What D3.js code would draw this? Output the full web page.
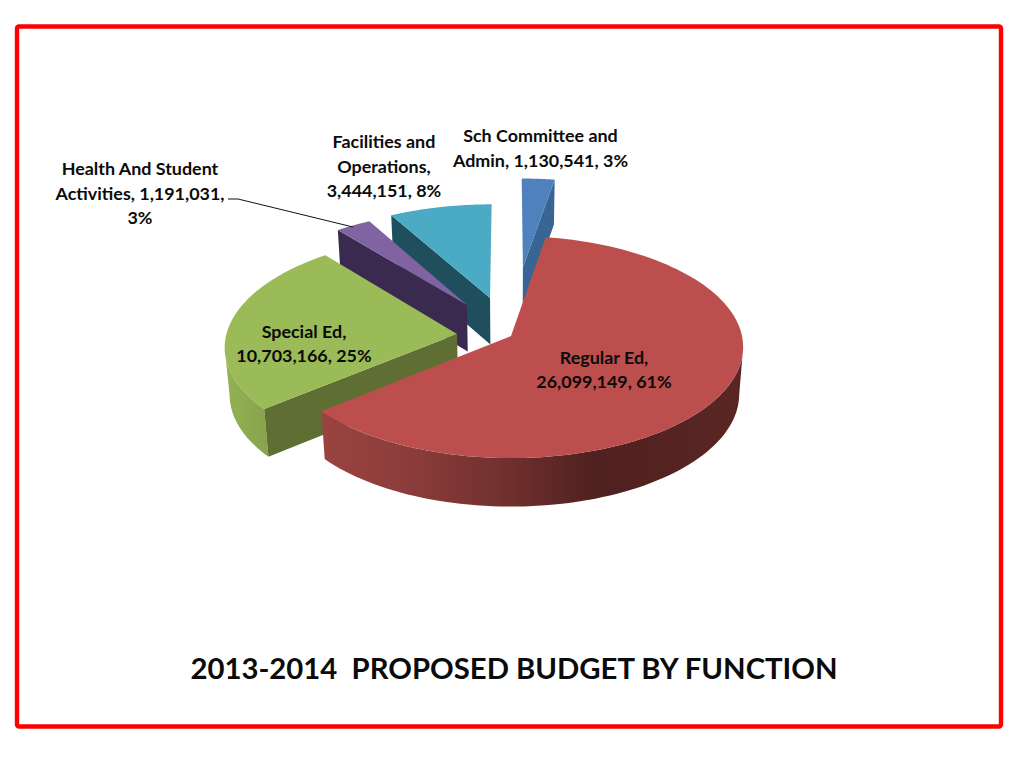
<!DOCTYPE html>
<html>
<head>
<meta charset="utf-8">
<script src="https://cdn.jsdelivr.net/npm/d3@7/dist/d3.min.js"></script>
<style>html,body{margin:0;padding:0;background:#fff}svg{display:block}</style>
</head>
<body>
<svg id="chart" width="1024" height="768"></svg>
<script>
// ---- data ----
const categories = ["Regular Ed", "Special Ed", "Health And Student Activities", "Facilities and Operations", "Sch Committee and Admin"];
const budget = [26099149, 10703166, 1191031, 3444151, 1130541];
const labelLines = [
  ["Regular Ed,", "26,099,149, 61%"],
  ["Special Ed,", "10,703,166, 25%"],
  ["Health And Student", "Activities, 1,191,031,", "3%"],
  ["Facilities and", "Operations,", "3,444,151, 8%"],
  ["Sch Committee and", "Admin, 1,130,541, 3%"]
];
const titleText = "2013-2014  PROPOSED BUDGET BY FUNCTION";

// ---- styling / layout ----
const topColors = ["#bc4f4d", "#9bbb59", "#8064a2", "#4babc5", "#4f81bd"];
const cutColors = ["#6e2f2d", "#5f6f34", "#3a2a50", "#1f4f5c", "#386594"];
const wallStops = [
  [[0, "#9a4341"], [0.2, "#8c3d3b"], [0.45, "#6f2f2d"], [0.65, "#4f2120"], [1, "#5a2624"]],
  [[0, "#94b254"], [1, "#88a44d"]],
  [[0, "#3a2a50"], [1, "#3a2a50"]],
  [[0, "#1f4f5c"], [1, "#1f4f5c"]],
  [[0, "#386594"], [1, "#386594"]]
];
const sliceShift = [[0, 0], [-0.234, 0.018], [-0.196, 0.29], [-0.094, 0.358], [0.055, 0.668]];
const labelAnchor = [[604, 358], [304, 332], [140, 169], [384, 142], [540.5, 136]];
const lineGap = [23.5, 24, 24.5, 24.5, 25];
const pieStart = 9.5 * Math.PI / 180;
const cx = 511, cy = 336, R = 231, Rk = 110, persp = 0.099, H = 47, bottomScale = 0.983;
const paintOrder = [4, 3, 2, 1, 0];
const fontFamily = "Lato, Carlito, Calibri, sans-serif";

const svg = d3.select("#chart");
const defs = svg.append("defs");

// frame
svg.append("rect").attr("x", 17).attr("y", 26.5).attr("width", 984).attr("height", 700)
  .attr("rx", 2).attr("fill", "#fff").attr("stroke", "#fe0000").attr("stroke-width", 4.4);

// perspective projection of a disc-plane point; lower=true gives the bottom face
function project(X, Y, lower) {
  const w = 1 / (1 + persp * Y);
  const x0 = R * X * w, y0 = -Rk * Y * w;
  return lower
    ? [cx + x0 * bottomScale, cy + y0 + H * Math.pow(w, 0.3)]
    : [cx + x0, cy + y0];
}
const rim = (i, a, lower) => project(sliceShift[i][0] + Math.sin(a), sliceShift[i][1] + Math.cos(a), lower);
const apex = (i, lower) => project(sliceShift[i][0], sliceShift[i][1], lower);

const arcs = d3.pie().sort(null).value(d => d)
  .startAngle(pieStart).endAngle(pieStart + 2 * Math.PI)(budget);
const line = d3.line();
const poly = pts => line(pts) + "Z";
const sweep = (a0, a1) => d3.range(0, 121).map(k => a0 + (a1 - a0) * k / 120);

const slices = svg.append("g").selectAll("g").data(paintOrder).join("g");

slices.each(function (i) {
  const g = d3.select(this);
  const a0 = arcs[i].startAngle, a1 = arcs[i].endAngle, mid = (a0 + a1) / 2;
  const angles = sweep(a0, a1);

  // curved outside wall: only the stretch of rim that faces the viewer
  const gid = "wall" + i;
  const front = [];
  for (let k = 0; k < angles.length - 1; k++) {
    if (rim(i, angles[k + 1])[0] < rim(i, angles[k])[0]) front.push(angles[k], angles[k + 1]);
  }
  const frontAngles = Array.from(new Set(front));
  if (frontAngles.length) {
    const xs = frontAngles.map(a => rim(i, a)[0]);
    const grad = defs.append("linearGradient").attr("id", gid)
      .attr("gradientUnits", "userSpaceOnUse")
      .attr("x1", d3.min(xs)).attr("x2", d3.max(xs)).attr("y1", 0).attr("y2", 0);
    grad.selectAll("stop").data(wallStops[i]).join("stop")
      .attr("offset", d => d[0]).attr("stop-color", d => d[1]);
    const pts = frontAngles.map(a => rim(i, a, false))
      .concat(frontAngles.slice().reverse().map(a => rim(i, a, true)));
    g.append("path").attr("d", poly(pts)).attr("fill", `url(#${gid})`);
  }

  // flat cut faces, only when their outward side looks toward the viewer
  const m = rim(i, mid), c = apex(i);
  [a0, a1].forEach(a => {
    const p = rim(i, a);
    const ex = p[0] - c[0], ey = p[1] - c[1];
    let nx = -ey, ny = ex;
    const len = Math.hypot(nx, ny); nx /= len; ny /= len;
    if ((m[0] - c[0]) * nx + (m[1] - c[1]) * ny > 0) { nx = -nx; ny = -ny; }
    if (ny > 0.1) {
      g.append("path")
        .attr("d", poly([c, p, rim(i, a, true), apex(i, true)]))
        .attr("fill", cutColors[i]);
    }
  });

  // top face
  g.append("path")
    .attr("d", poly([c].concat(angles.map(a => rim(i, a)))))
    .attr("fill", topColors[i]);
});

// leader line for the Health label
svg.append("path")
  .attr("d", d3.line()([[228, 199], [238, 199], [353, 227]]))
  .attr("fill", "none").attr("stroke", "#111").attr("stroke-width", 1);

// data labels
const labels = svg.append("g").selectAll("text").data(labelLines).join("text")
  .attr("text-anchor", "middle").attr("font-family", fontFamily)
  .attr("font-weight", 700).attr("font-size", 17.9).attr("fill", "#0b0b0b");
labels.each(function (lines, i) {
  d3.select(this).selectAll("tspan").data(lines).join("tspan")
    .attr("x", labelAnchor[i][0])
    .attr("y", (d, k) => labelAnchor[i][1] + 6 + k * lineGap[i])
    .text(d => d);
});

// title
svg.append("text").attr("x", 514).attr("y", 679).attr("text-anchor", "middle")
  .attr("font-family", fontFamily).attr("font-weight", 700).attr("font-size", 29.3)
  .attr("fill", "#0b0b0b").attr("xml:space", "preserve").style("white-space", "pre")
  .text(titleText);
</script>
</body>
</html>
